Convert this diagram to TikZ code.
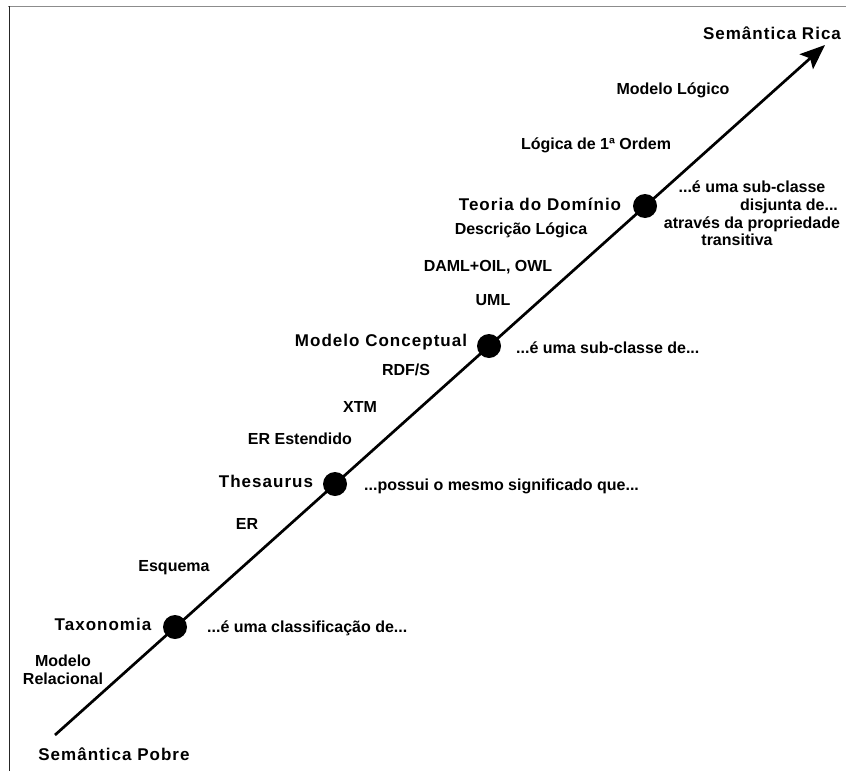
\documentclass[tikz,border=0pt]{standalone}
\usepackage{fontspec}
\setmainfont{Liberation Sans}
\newfontfamily\spacedfont[LetterSpace=6]{Liberation Sans}
\usetikzlibrary{arrows.meta}

\begin{document}
\begin{tikzpicture}
  [x=1pt,y=-1pt,
   lbl/.style={font=\fontsize{16}{18}\selectfont\bfseries,align=center,inner sep=0pt},
   big/.style={font=\spacedfont\fontsize{17}{20}\selectfont\bfseries,inner sep=0pt},
   rel/.style={lbl,anchor=west},
   dot/.style={circle,fill=black,minimum size=24pt,inner sep=0pt}]
  \useasboundingbox (0,0) rectangle (846,771);
  \draw[black!45,line width=1.3pt] (8,6.5) -- (846,6.5);
  \draw[black!85,line width=1.5pt] (9.5,6) -- (9.5,771);
  \coordinate (pobre) at (55,735);
  \coordinate (rica) at (825,45);
  \draw[line width=2.7pt,-{Stealth[length=25pt,width=20pt,inset=5pt]}] (pobre) -- (rica);
  \foreach \n/\x/\y in {dtaxo/175/627, dthes/335/484, dconc/489/346, dteor/645/206}
    \node[dot] (\n) at (\x,\y) {};
  \foreach \n/\x/\y/\t in {trica/772/33/Semântica Rica, tteor/540/204/Teoria do Domínio,
      tconc/381/342/Modelo Conceptual, tthes/266/481/Thesaurus,
      ttaxo/103/624/Taxonomia, tpobre/114/754/Semântica Pobre}
    \node[big] (\n) at (\x,\y) {\t};
  \foreach \n/\x/\y/\t in {mlog/673/90/Modelo Lógico, lpo/596/145/Lógica de 1ª Ordem,
      dlog/521/230/Descrição Lógica, daml/488/267/{DAML+OIL, OWL}, uml/493/300/UML,
      rdfs/406/370/{RDF/S}, xtm/360/407/XTM, erest/300/439/ER Estendido,
      er/247/524/ER, esq/174/568/Esquema, mrel/63/670/Modelo\\Relacional}
    \node[lbl] (\n) at (\x,\y) {\t};
  \node[lbl,font=\fontsize{16}{17.7}\selectfont\bfseries] (rteor) at (752,213.5)
    {...é uma sub-classe\\ \hspace*{74pt}disjunta de...\\ através da propriedade\\ transitiva\hspace*{30pt}};
  \node[rel] (rconc) at (516,348) {...é uma sub-classe de...};
  \node[rel] (rthes) at (364,486) {...possui o mesmo significado que...};
  \node[rel] (rtaxo) at (207,628) {...é uma classificação de...};
\end{tikzpicture}
\end{document}
